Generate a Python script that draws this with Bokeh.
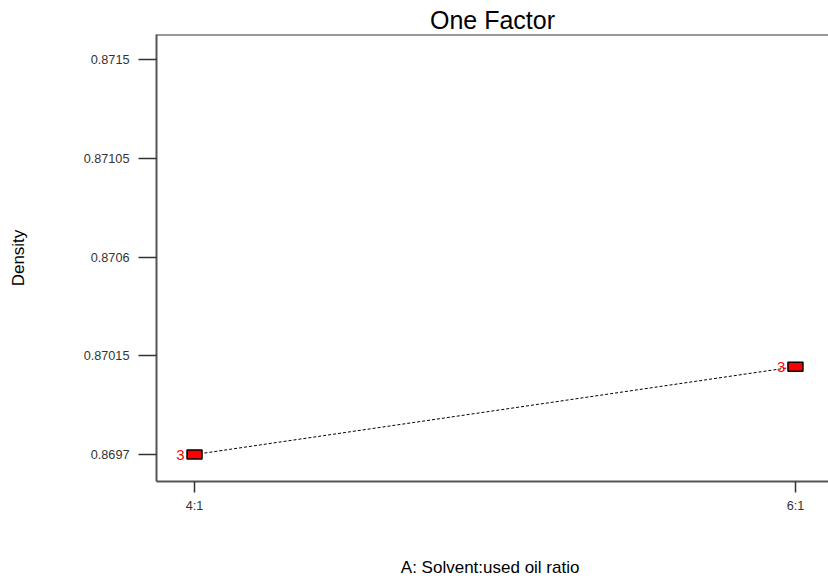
from bokeh.plotting import figure
from bokeh.models import FixedTicker, Range1d, Span, ColumnDataSource
from bokeh.embed import file_html
from bokeh.resources import INLINE
from bokeh.core.properties import value

# Data
ratio = [4, 6]
x_tick_labels = ["4:1", "6:1"]
density = [0.8697, 0.87010]
replicates = ["3", "3"]
y_ticks = [0.8697, 0.87015, 0.8706, 0.87105, 0.8715]
y_tick_labels = ["0.8697", "0.87015", "0.8706", "0.87105", "0.8715"]

FONT = "Liberation Sans"

p = figure(width=828, height=579, output_backend="svg", toolbar_location=None,
           x_range=Range1d(3.8735, 6.11), y_range=Range1d(0.869577, 0.871614),
           min_border_left=156, min_border_top=34, min_border_bottom=97, min_border_right=0,
           title="One Factor")
p.outline_line_color = None
p.grid.visible = False
p.background_fill_color = "white"
p.border_fill_color = "white"

p.title.align = "center"
p.title.text_font = FONT
p.title.text_font_size = "25px"
p.title.text_font_style = "normal"
p.title.text_color = "black"
p.title.standoff = 1

# top border
p.add_layout(Span(location=0.871614, dimension="width", line_color="#333333", line_width=2))

xa = p.xaxis[0]
xa.ticker = FixedTicker(ticks=ratio)
xa.major_label_overrides = dict(zip(ratio, x_tick_labels))
xa.axis_label = "A: Solvent:used  oil ratio"
ya = p.yaxis[0]
ya.ticker = FixedTicker(ticks=y_ticks)
ya.major_label_overrides = dict(zip(y_ticks, y_tick_labels))
ya.axis_label = "Density"

for ax in (xa, ya):
    ax.axis_line_color = "#555555"
    ax.axis_line_width = 2
    ax.major_tick_line_color = "#333333"
    ax.major_tick_line_width = 1.5
    ax.major_tick_in = 0
    ax.minor_tick_line_color = None
    ax.major_label_text_font = FONT
    ax.major_label_text_font_size = "12.7px"
    ax.major_label_text_color = "#333333"
    ax.axis_label_text_font = FONT
    ax.axis_label_text_font_size = "17px"
    ax.axis_label_text_font_style = "normal"
    ax.axis_label_text_color = "black"

xa.major_tick_out = 11
xa.major_label_standoff = 6
xa.axis_label_standoff = 42
ya.major_tick_out = 18
ya.major_label_standoff = 9
ya.axis_label_standoff = 53

src = ColumnDataSource(dict(x=ratio, y=density, n=replicates))
p.line("x", "y", source=src, line_color="black", line_width=1, line_dash="3 2")
p.rect("x", "y", width=15, height=9, width_units="screen", height_units="screen",
       source=src, fill_color="red", line_color="black", line_width=1.5)
p.text("x", "y", text="n", source=src, text_color="red", text_align="right",
       text_baseline="middle", x_offset=-10, text_font=value(FONT), text_font_size="15px")

open("out.html", "w").write(file_html(p, INLINE))
